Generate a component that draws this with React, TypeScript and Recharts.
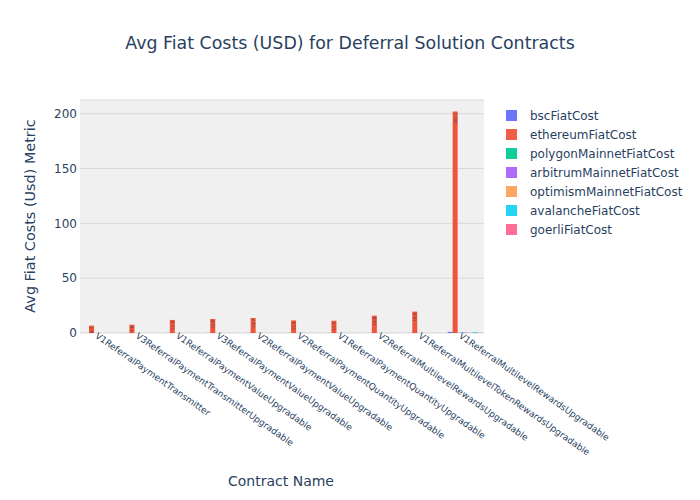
import React from 'react';
import { BarChart, Bar, XAxis, YAxis, CartesianGrid, LabelList } from 'recharts';

const categories = [
  'V1ReferralPaymentTransmitter',
  'V3ReferralPaymentTransmitterUpgradable',
  'V1ReferralPaymentValueUpgradable',
  'V3ReferralPaymentValueUpgradable',
  'V2ReferralPaymentValueUpgradable',
  'V2ReferralPaymentQuantityUpgradable',
  'V1ReferralPaymentQuantityUpgradable',
  'V2ReferralMultilevelRewardsUpgradable',
  'V1ReferralMultilevelTokenRewardsUpgradable',
  'V1ReferralMultilevelRewardsUpgradable',
];

const bscFiatCost = [0.05, 0.06, 0.08, 0.09, 0.1, 0.08, 0.08, 0.1, 0.12, 1.0];
const ethereumFiatCost = [6.7, 7.6, 11.9, 12.8, 13.7, 11.5, 11.2, 15.8, 19.5, 202.1];
const polygonMainnetFiatCost = [0.01, 0.01, 0.02, 0.02, 0.02, 0.02, 0.02, 0.03, 0.03, 0.2];
const arbitrumMainnetFiatCost = [0.02, 0.03, 0.04, 0.04, 0.05, 0.04, 0.04, 0.05, 0.06, 0.4];
const optimismMainnetFiatCost = [0.02, 0.02, 0.03, 0.03, 0.04, 0.03, 0.03, 0.04, 0.05, 0.3];
const avalancheFiatCost = [0.04, 0.05, 0.07, 0.08, 0.08, 0.07, 0.07, 0.09, 0.11, 0.8];
const goerliFiatCost = [0.01, 0.01, 0.02, 0.02, 0.02, 0.02, 0.02, 0.02, 0.03, 0.2];

const yTicks = [0, 50, 100, 150, 200];

const series = [
  { key: 'bscFiatCost', color: '#636efa', values: bscFiatCost },
  { key: 'ethereumFiatCost', color: '#EF553B', values: ethereumFiatCost },
  { key: 'polygonMainnetFiatCost', color: '#00cc96', values: polygonMainnetFiatCost },
  { key: 'arbitrumMainnetFiatCost', color: '#ab63fa', values: arbitrumMainnetFiatCost },
  { key: 'optimismMainnetFiatCost', color: '#FFA15A', values: optimismMainnetFiatCost },
  { key: 'avalancheFiatCost', color: '#19d3f3', values: avalancheFiatCost },
  { key: 'goerliFiatCost', color: '#FF6692', values: goerliFiatCost },
];

const data = categories.map((name, i) => {
  const row: Record<string, any> = { name };
  series.forEach((s) => {
    row[s.key] = s.values[i];
  });
  return row;
});

const FONT = '"DejaVu Sans", Verdana, sans-serif';
const TXT = '#2a3f5f';

const XTick = (props: any) => {
  const { x, y, payload } = props;
  return (
    <g transform={`translate(${x - 2},${y - 1})`}>
      <text
        transform="rotate(35)"
        textAnchor="start"
        dominantBaseline="hanging"
        fontSize={9}
        fontFamily={FONT}
        fill={TXT}
      >
        {payload.value}
      </text>
    </g>
  );
};

const InsideLabel = (props: any) => {
  const { x, y, width, height, value } = props;
  if (!height || height < 4) return null;
  const txt = String(value);
  const fs = Math.min(4, height / (txt.length * 0.62));
  const cx = x + width / 2;
  const ty = y + 1;
  return (
    <text
      x={cx}
      y={ty}
      transform={`rotate(-90, ${cx}, ${ty})`}
      textAnchor="end"
      dominantBaseline="central"
      fontSize={fs}
      fontFamily={FONT}
      fill="#444"
    >
      {txt}
    </text>
  );
};

export default function App() {
  return (
    <div style={{ position: 'absolute', left: 0, top: 0, width: 700, height: 500, background: '#fff', fontFamily: FONT }}>
      <BarChart
        width={700}
        height={500}
        data={data}
        margin={{ top: 100, right: 216, bottom: 0, left: 20 }}
        barCategoryGap="10%"
        barGap={0}
      >
        <CartesianGrid vertical={false} stroke="#d9d9d9" fill="#f0f0f0" />
        <XAxis
          dataKey="name"
          interval={0}
          tick={<XTick />}
          tickLine={false}
          axisLine={false}
          tickSize={0}
          tickMargin={0}
          height={167}
        />
        <YAxis
          width={60}
          domain={[0, 212.5]}
          ticks={yTicks}
          interval={0}
          tickLine={false}
          axisLine={false}
          tickSize={3}
          tickMargin={0}
          tick={{ fontSize: 12, fill: TXT, fontFamily: FONT }}
          allowDataOverflow
        />
        {series.map((s) => (
          <Bar key={s.key} dataKey={s.key} fill={s.color} isAnimationActive={false}>
            {s.key === 'ethereumFiatCost' ? <LabelList dataKey={s.key} content={<InsideLabel />} /> : null}
          </Bar>
        ))}
      </BarChart>

      <div style={{ position: 'absolute', left: 0, width: 700, top: 33, textAlign: 'center', fontSize: 17.4, color: TXT }}>
        Avg Fiat Costs (USD) for Deferral Solution Contracts
      </div>

      <div
        style={{
          position: 'absolute',
          left: 30,
          top: 216,
          transform: 'translate(-50%, -50%) rotate(-90deg)',
          whiteSpace: 'nowrap',
          fontSize: 14.4,
          color: TXT,
        }}
      >
        Avg Fiat Costs (Usd) Metric
      </div>

      <div style={{ position: 'absolute', left: 181, width: 200, top: 473, textAlign: 'center', fontSize: 14, color: TXT }}>
        Contract Name
      </div>

      <div style={{ position: 'absolute', left: 506, top: 106 }}>
        {series.map((s) => (
          <div key={s.key} style={{ display: 'flex', alignItems: 'center', height: 19 }}>
            <div style={{ width: 11, height: 11, background: s.color, marginLeft: 0, marginRight: 13, opacity: 0.95 }} />
            <span style={{ fontSize: 12, color: TXT }}>{s.key}</span>
          </div>
        ))}
      </div>
    </div>
  );
}
